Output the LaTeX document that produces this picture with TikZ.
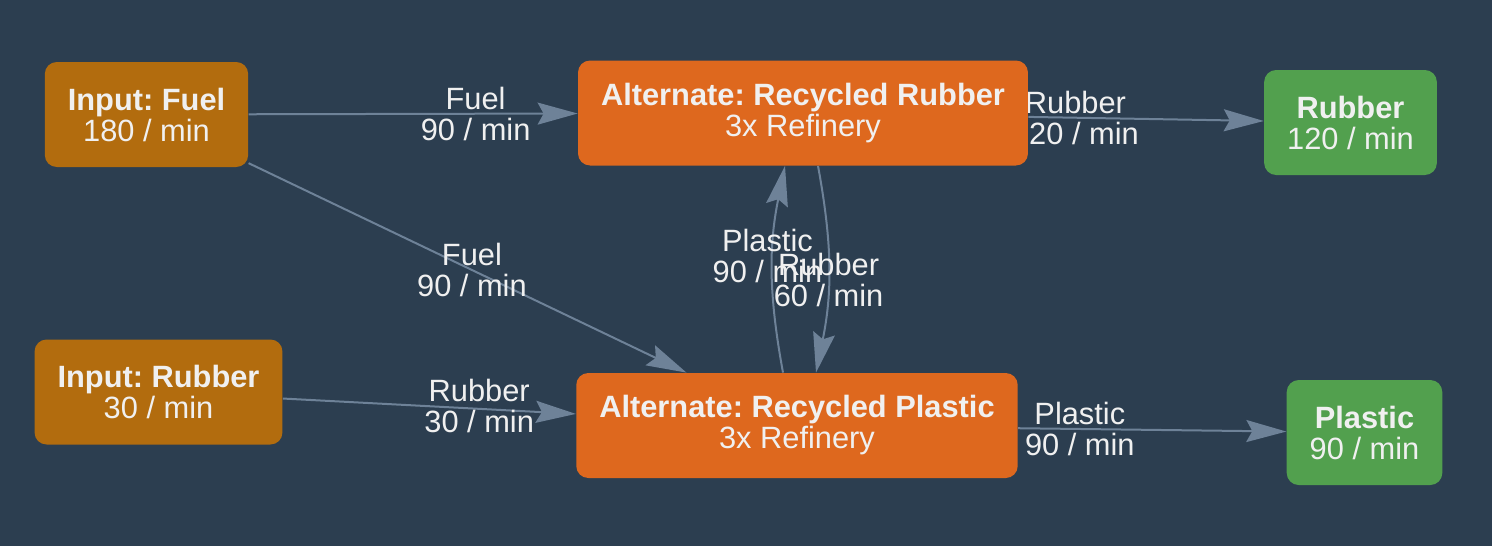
\documentclass[tikz,border=0pt]{standalone}
\usepackage{fontspec}
\setmainfont{Liberation Sans}
\usetikzlibrary{arrows.meta}
\frenchspacing

\definecolor{bgcol}{HTML}{2C3E50}
\definecolor{inputcol}{HTML}{B26C0E}
\definecolor{recipecol}{HTML}{DE681E}
\definecolor{outputcol}{HTML}{52A04E}
\definecolor{edgecol}{HTML}{6E8298}
\definecolor{txtcol}{HTML}{F0F0F0}

\pgfdeclarelayer{background}
\pgfdeclarelayer{edges}
\pgfsetlayers{background,edges,main}

\begin{document}
\begin{tikzpicture}[x=0.5pt,y=-0.5pt, every node/.style={font=\fontsize{15.4}{15.5}\selectfont, text=txtcol}]

% debugging grid
% \draw[step=50,gray,very thin] (0,0) grid (1492,546);

% Boxes
\tikzstyle{box}=[rectangle, rounded corners=6pt, inner xsep=11.5pt, inner ysep=0pt, minimum height=52.5pt, align=center]
\tikzstyle{input}=[box, fill=inputcol]
\tikzstyle{recipe}=[box, fill=recipecol]
\tikzstyle{output}=[box, fill=outputcol]

% Flows
\tikzstyle{flow}=[draw=edgecol, line width=1pt, -{Stealth[length=20pt,width=11pt,inset=3pt,fill=edgecol]}]
\tikzstyle{rate}=[align=center, inner sep=0pt]

\begin{pgfonlayer}{background}
\fill[bgcol] (0,0) rectangle (1492,546);
\end{pgfonlayer}
\useasboundingbox (0,0) rectangle (1492,546);

%%%%%%%%%%%%%%%%%%%%%%%%%%%%%%%%%%%%%%%%%%%%%%%%%%%%%%%%%%%%%%
%
%        Inputs
%
\node (fuelin)   [input] at (146.5,114.5) {\textbf{Input: Fuel}\\180 / min};
\node (rubberin) [input] at (158.5,392)   {\textbf{Input: Rubber}\\30 / min};

%%%%%%%%%%%%%%%%%%%%%%%%%%%%%%%%%%%%%%%%%%%%%%%%%%%%%%%%%%%%%%
%
%        Recipes
%
\node (recrubber)  [recipe] at (803,113)   {\textbf{Alternate: Recycled Rubber}\\3x Refinery};
\node (recplastic) [recipe] at (797,425.5) {\textbf{Alternate: Recycled Plastic}\\3x Refinery};

%%%%%%%%%%%%%%%%%%%%%%%%%%%%%%%%%%%%%%%%%%%%%%%%%%%%%%%%%%%%%%
%
%        Outputs
%
\node (rubberout)  [output] at (1350.5,122.5) {\textbf{Rubber}\\120 / min};
\node (plasticout) [output] at (1364.5,432.5) {\textbf{Plastic}\\90 / min};

% flows go under the boxes
\begin{pgfonlayer}{edges}
\draw[flow] (fuelin)   -- node[rate, pos=0.69] {Fuel\\90 / min}   (recrubber);
\draw[flow] (fuelin)   -- node[rate, pos=0.51] {Fuel\\90 / min}   (recplastic);
\draw[flow] (rubberin) -- node[rate, pos=0.67, yshift=1.5pt] {Rubber\\30 / min} (recplastic);

% loop between the two recipes
\draw[flow] ([xshift=-7pt]recplastic.north) to[bend left=11]
    node[rate, midway, xshift=-2.5pt, yshift=6.5pt] {Plastic\\90 / min} ([xshift=-9pt]recrubber.south);
\draw[flow] ([xshift=7.5pt]recrubber.south) to[bend left=11]
    node[rate, midway, yshift=-5.5pt] {Rubber\\60 / min} ([xshift=9.5pt]recplastic.north);

\draw[flow] (recrubber)  -- node[rate, pos=0.2] {Rubber\\120 / min} (rubberout);
\draw[flow] (recplastic) -- node[rate, pos=0.23] {Plastic\\90 / min}  (plasticout);
\end{pgfonlayer}

\end{tikzpicture}
\end{document}
